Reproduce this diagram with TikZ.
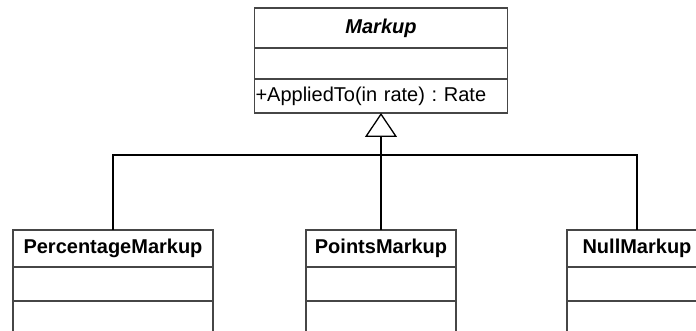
\documentclass[tikz,border=0pt]{standalone}
\usepackage{fontspec}
\setmainfont{Liberation Sans}
\usetikzlibrary{positioning,arrows.meta}
\definecolor{frame}{RGB}{70,70,70}
\frenchspacing

\begin{document}
\begin{tikzpicture}[
  x=1pt, y=-1pt, font=\fontsize{20}{24}\selectfont,
  part/.style={draw=frame, line width=1.4pt, outer sep=0pt, inner sep=0pt, minimum height=34pt},
  head/.style={part, minimum height=37pt, font=\fontsize{20}{24}\selectfont\bfseries},
  link/.style={draw=black, line width=1.3pt},
  gen/.style={link, -{Triangle[open, length=24pt, width=32pt, line width=1.3pt]}},
]
\clip (0,0) rectangle (696,331);

% ---------- Abstract base class (top) ----------
\node[head, minimum width=253pt, minimum height=40pt,
      font=\fontsize{20}{24}\selectfont\bfseries\itshape] (markup) at (381,28) {Markup};
\node[part, minimum width=253pt, minimum height=31pt, below=0pt of markup] (markup-attr) {};
\node[part, text width=251pt, inner xsep=1pt, align=left, below=0pt of markup-attr] (markup-op) {+AppliedTo(in rate) : Rate};

% ---------- Subclasses (bottom, cut off by the frame) ----------
\foreach \n/\x/\w/\t in {pct/113/200/PercentageMarkup, pts/381/150/PointsMarkup, null/637/140/NullMarkup}{
  \node[head, minimum width=\w pt] (\n) at (\x,248.5) {\t};
  \node[part, minimum width=\w pt, below=0pt of \n] (\n-attr) {};
  \node[part, minimum width=\w pt, minimum height=50pt, below=0pt of \n-attr] (\n-op) {};
}

% generalization: all three meet on one bus, one hollow triangle
\coordinate[below=42pt of markup-op] (join);
\draw[link] (pct.north) |- (join);
\draw[link] (null.north) |- (join);
\draw[gen] (pts.north) -- (markup-op.south);

\end{tikzpicture}
\end{document}
